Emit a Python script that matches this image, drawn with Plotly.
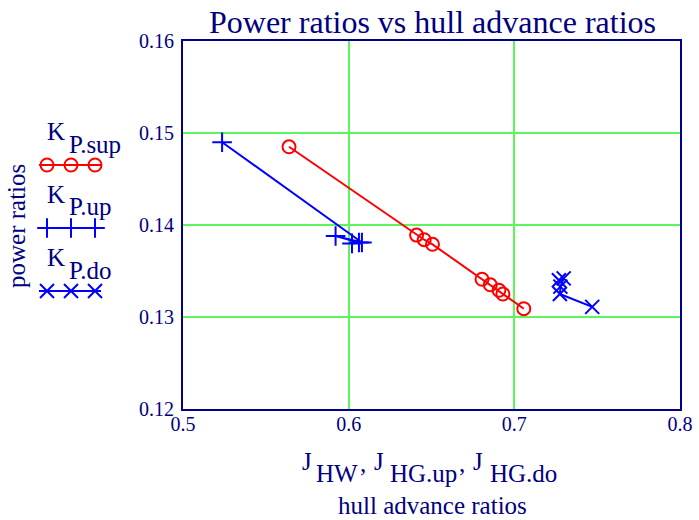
import plotly.graph_objects as go

W, H = 699, 520

# ---- data ----
J_HW = [0.564, 0.641, 0.6456, 0.6506, 0.6805, 0.6855, 0.6907, 0.6931, 0.7057]
K_P_sup = [0.1485, 0.1389, 0.1384, 0.1379, 0.1341, 0.1335, 0.1329, 0.1325, 0.1309]

J_HG_up = [0.5236, 0.6080, 0.5921, 0.6062, 0.6020]
K_P_up = [0.1490, 0.1381, 0.1388, 0.1381, 0.1380]

J_HG_do = [0.7269, 0.7298, 0.7278, 0.7275, 0.7470]
K_P_do = [0.1340, 0.1342, 0.1333, 0.1325, 0.1311]

X_TICKS = [0.5, 0.6, 0.7, 0.8]
Y_TICKS = [0.12, 0.13, 0.14, 0.15, 0.16]

NAVY = "#000080"
LINE_NAVY = "#00008b"
GRID = "#5cf55c"
RED = "#ff0000"
BLUE = "#0000ff"
FONT = "Liberation Serif"

# plot area in pixels
PX0, PX1, PY0, PY1 = 183, 680, 41, 409


def px(x):
    return x / W


def py(y):
    return 1 - y / H


fig = go.Figure()

fig.add_trace(go.Scatter(
    x=J_HW, y=K_P_sup, mode="lines+markers",
    line=dict(color=RED, width=2),
    marker=dict(symbol="circle-open", size=13, color=RED, line=dict(width=2, color=RED)),
    showlegend=False))
fig.add_trace(go.Scatter(
    x=J_HG_up, y=K_P_up, mode="lines+markers",
    line=dict(color=BLUE, width=2),
    marker=dict(symbol="cross-thin-open", size=14, color=BLUE, line=dict(width=2, color=BLUE)),
    showlegend=False))
fig.add_trace(go.Scatter(
    x=J_HG_do, y=K_P_do, mode="lines+markers",
    line=dict(color=BLUE, width=2),
    marker=dict(symbol="x-thin-open", size=14, color=BLUE, line=dict(width=2, color=BLUE)),
    showlegend=False))

# ---- custom legend (label above a sample line) on a hidden pixel axis ----
LEG_X = [47, 71, 95]
LEG_LINE_X = [39, 47, 71, 95, 101]
legend_items = [
    ("P.sup", 165, RED, "circle-open", 13),
    ("P.up", 228, BLUE, "cross-thin-open", 14),
    ("P.do", 291, BLUE, "x-thin-open", 14),
]
for sub, ly, col, sym, sz in legend_items:
    fig.add_trace(go.Scatter(
        x=LEG_LINE_X, y=[ly] * len(LEG_LINE_X), mode="lines",
        line=dict(color=col, width=2), xaxis="x2", yaxis="y2",
        showlegend=False, hoverinfo="skip"))
    fig.add_trace(go.Scatter(
        x=LEG_X, y=[ly] * len(LEG_X), mode="markers",
        marker=dict(symbol=sym, size=sz, color=col, line=dict(width=2, color=col)),
        xaxis="x2", yaxis="y2", showlegend=False, hoverinfo="skip"))

annotations = []


def add_text(text, x, y, size, xanchor="center", textangle=0):
    annotations.append(dict(
        text=text, x=px(x), y=py(y), xref="paper", yref="paper",
        xanchor=xanchor, yanchor="middle", showarrow=False, textangle=textangle,
        font=dict(family=FONT, size=size, color=NAVY)))


# title
add_text("Power ratios vs hull advance ratios", 432, 22, 32)
# y-axis title
add_text("power ratios", 16, 226, 25, textangle=-90)
# legend labels
for (sub, ly, *_rest) in legend_items:
    add_text("K", 45, ly - 34, 25, xanchor="left")
    add_text(sub, 67, ly - 21, 25, xanchor="left")
# x-axis title pieces
for txt, xl, yc in [("J", 300, 461), ("HW", 314, 473), (",", 358, 463),
                    ("J", 372, 461), ("HG.up", 388, 473), (",", 457, 463),
                    ("J", 471, 461), ("HG.do", 488, 473)]:
    add_text(txt, xl, yc, 25, xanchor="left")
add_text("hull advance ratios", 432, 505, 25)

fig.update_layout(
    width=W, height=H,
    margin=dict(l=0, r=0, t=0, b=0, pad=0, autoexpand=False),
    paper_bgcolor="white", plot_bgcolor="rgba(0,0,0,0)",
    showlegend=False,
    annotations=annotations,
    xaxis=dict(
        domain=[px(PX0), px(PX1)], range=[0.5, 0.8], automargin=False,
        tickvals=X_TICKS, ticktext=[f"{v:.1f}" for v in X_TICKS],
        ticklabelstandoff=-4,
        showgrid=True, gridcolor=GRID, gridwidth=1.5,
        showline=True, linecolor=LINE_NAVY, linewidth=2, mirror=True,
        ticks="", zeroline=False, fixedrange=True,
        tickfont=dict(family=FONT, size=20, color=NAVY)),
    yaxis=dict(
        domain=[py(PY1), py(PY0)], range=[0.12, 0.16], automargin=False,
        tickvals=Y_TICKS, ticktext=[f"{v:.2f}" for v in Y_TICKS],
        ticklabelstandoff=3,
        showgrid=True, gridcolor=GRID, gridwidth=1.5,
        showline=True, linecolor=LINE_NAVY, linewidth=2, mirror=True,
        ticks="", zeroline=False, fixedrange=True,
        tickfont=dict(family=FONT, size=20, color=NAVY)),
    xaxis2=dict(domain=[0, 1], range=[0, W], visible=False, fixedrange=True,
                anchor="y2", automargin=False),
    yaxis2=dict(domain=[0, 1], range=[H, 0], visible=False, fixedrange=True,
                anchor="x2", automargin=False),
)

fig.write_html("out.html", config={"displayModeBar": False},
               post_script="document.body.style.margin='0';")
